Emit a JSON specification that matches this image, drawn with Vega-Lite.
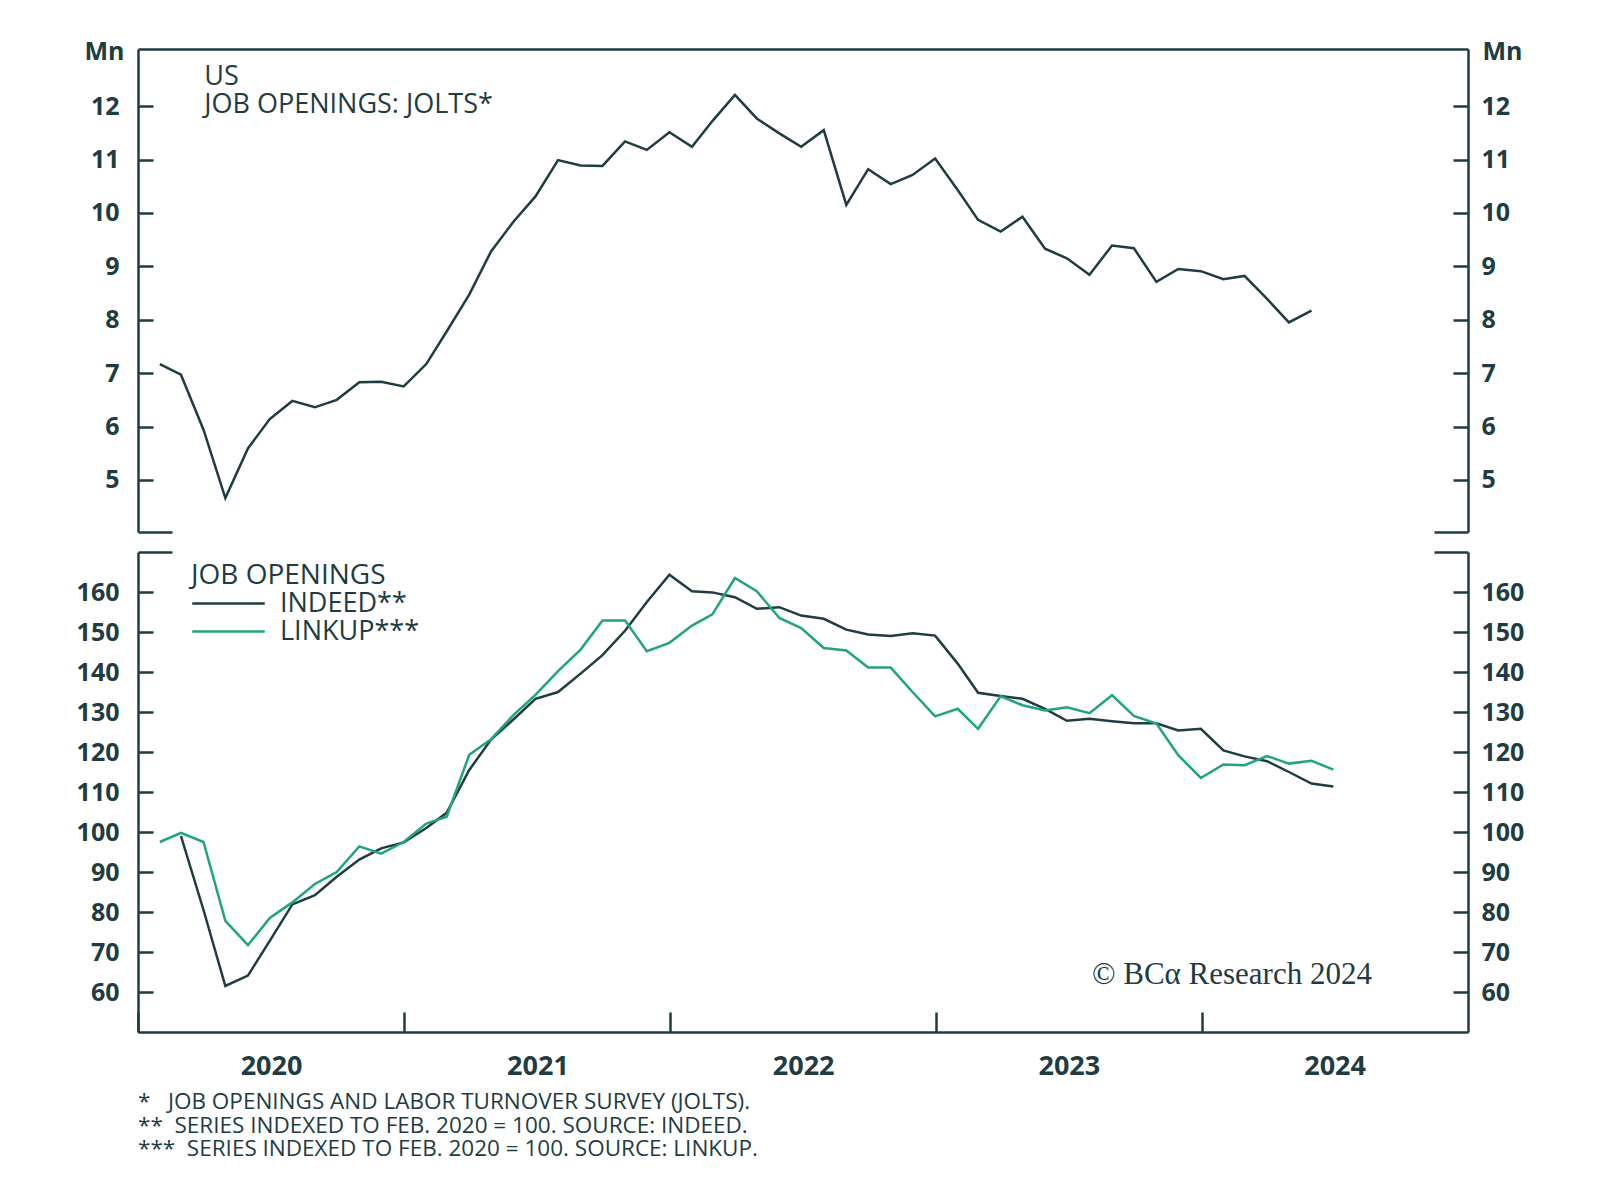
{
  "$schema": "https://vega.github.io/schema/vega-lite/v6.json",
  "background": "white",
  "padding": {"left": 76, "top": 39, "right": 10, "bottom": 10},
  "config": {
    "view": {"stroke": null},
    "font": "Open Sans",
    "axis": {"grid": false}
  },
  "datasets": {
    "jolts": [
      {"date": "2020-01-31", "value": 7.17}, {"date": "2020-02-29", "value": 6.97}, {"date": "2020-03-31", "value": 5.94},
      {"date": "2020-04-30", "value": 4.66}, {"date": "2020-05-31", "value": 5.59}, {"date": "2020-06-30", "value": 6.14},
      {"date": "2020-07-31", "value": 6.48}, {"date": "2020-08-31", "value": 6.36}, {"date": "2020-09-30", "value": 6.5},
      {"date": "2020-10-31", "value": 6.83}, {"date": "2020-11-30", "value": 6.84}, {"date": "2020-12-31", "value": 6.75},
      {"date": "2021-01-31", "value": 7.17}, {"date": "2021-02-28", "value": 7.78}, {"date": "2021-03-31", "value": 8.47},
      {"date": "2021-04-30", "value": 9.28}, {"date": "2021-05-31", "value": 9.84}, {"date": "2021-06-30", "value": 10.31},
      {"date": "2021-07-31", "value": 10.99}, {"date": "2021-08-31", "value": 10.89}, {"date": "2021-09-30", "value": 10.88},
      {"date": "2021-10-31", "value": 11.34}, {"date": "2021-11-30", "value": 11.18}, {"date": "2021-12-31", "value": 11.51},
      {"date": "2022-01-31", "value": 11.24}, {"date": "2022-02-28", "value": 11.72}, {"date": "2022-03-31", "value": 12.21},
      {"date": "2022-04-30", "value": 11.77}, {"date": "2022-05-31", "value": 11.49}, {"date": "2022-06-30", "value": 11.24},
      {"date": "2022-07-31", "value": 11.55}, {"date": "2022-08-31", "value": 10.15}, {"date": "2022-09-30", "value": 10.82},
      {"date": "2022-10-31", "value": 10.54}, {"date": "2022-11-30", "value": 10.71}, {"date": "2022-12-31", "value": 11.02},
      {"date": "2023-01-31", "value": 10.43}, {"date": "2023-02-28", "value": 9.87}, {"date": "2023-03-31", "value": 9.65},
      {"date": "2023-04-30", "value": 9.93}, {"date": "2023-05-31", "value": 9.33}, {"date": "2023-06-30", "value": 9.15},
      {"date": "2023-07-31", "value": 8.84}, {"date": "2023-08-31", "value": 9.39}, {"date": "2023-09-30", "value": 9.34},
      {"date": "2023-10-31", "value": 8.71}, {"date": "2023-11-30", "value": 8.95}, {"date": "2023-12-31", "value": 8.91},
      {"date": "2024-01-31", "value": 8.76}, {"date": "2024-02-29", "value": 8.82}, {"date": "2024-03-31", "value": 8.39},
      {"date": "2024-04-30", "value": 7.95}, {"date": "2024-05-31", "value": 8.17}
    ],
    "postings": [
      {"date": "2020-02-29", "series": "INDEED**", "value": 99.0}, {"date": "2020-03-31", "series": "INDEED**", "value": 80.5},
      {"date": "2020-04-30", "series": "INDEED**", "value": 61.5}, {"date": "2020-05-31", "series": "INDEED**", "value": 64.1},
      {"date": "2020-06-30", "series": "INDEED**", "value": 72.8}, {"date": "2020-07-31", "series": "INDEED**", "value": 81.9},
      {"date": "2020-08-31", "series": "INDEED**", "value": 84.2}, {"date": "2020-09-30", "series": "INDEED**", "value": 88.8},
      {"date": "2020-10-31", "series": "INDEED**", "value": 93.1}, {"date": "2020-11-30", "series": "INDEED**", "value": 95.9},
      {"date": "2020-12-31", "series": "INDEED**", "value": 97.4}, {"date": "2021-01-31", "series": "INDEED**", "value": 101.0},
      {"date": "2021-02-28", "series": "INDEED**", "value": 104.8}, {"date": "2021-03-31", "series": "INDEED**", "value": 115.5},
      {"date": "2021-04-30", "series": "INDEED**", "value": 123.1}, {"date": "2021-05-31", "series": "INDEED**", "value": 128.2},
      {"date": "2021-06-30", "series": "INDEED**", "value": 133.3}, {"date": "2021-07-31", "series": "INDEED**", "value": 135.0},
      {"date": "2021-08-31", "series": "INDEED**", "value": 139.6}, {"date": "2021-09-30", "series": "INDEED**", "value": 144.2},
      {"date": "2021-10-31", "series": "INDEED**", "value": 150.3}, {"date": "2021-11-30", "series": "INDEED**", "value": 157.5},
      {"date": "2021-12-31", "series": "INDEED**", "value": 164.3}, {"date": "2022-01-31", "series": "INDEED**", "value": 160.2},
      {"date": "2022-02-28", "series": "INDEED**", "value": 159.9}, {"date": "2022-03-31", "series": "INDEED**", "value": 158.7},
      {"date": "2022-04-30", "series": "INDEED**", "value": 155.8}, {"date": "2022-05-31", "series": "INDEED**", "value": 156.2},
      {"date": "2022-06-30", "series": "INDEED**", "value": 154.1}, {"date": "2022-07-31", "series": "INDEED**", "value": 153.3},
      {"date": "2022-08-31", "series": "INDEED**", "value": 150.6}, {"date": "2022-09-30", "series": "INDEED**", "value": 149.4},
      {"date": "2022-10-31", "series": "INDEED**", "value": 149.0}, {"date": "2022-11-30", "series": "INDEED**", "value": 149.7},
      {"date": "2022-12-31", "series": "INDEED**", "value": 149.1}, {"date": "2023-01-31", "series": "INDEED**", "value": 142.1},
      {"date": "2023-02-28", "series": "INDEED**", "value": 134.8}, {"date": "2023-03-31", "series": "INDEED**", "value": 134.0},
      {"date": "2023-04-30", "series": "INDEED**", "value": 133.3}, {"date": "2023-05-31", "series": "INDEED**", "value": 130.8},
      {"date": "2023-06-30", "series": "INDEED**", "value": 127.8}, {"date": "2023-07-31", "series": "INDEED**", "value": 128.3},
      {"date": "2023-08-31", "series": "INDEED**", "value": 127.7}, {"date": "2023-09-30", "series": "INDEED**", "value": 127.2},
      {"date": "2023-10-31", "series": "INDEED**", "value": 127.2}, {"date": "2023-11-30", "series": "INDEED**", "value": 125.4},
      {"date": "2023-12-31", "series": "INDEED**", "value": 125.8}, {"date": "2024-01-31", "series": "INDEED**", "value": 120.4},
      {"date": "2024-02-29", "series": "INDEED**", "value": 118.9}, {"date": "2024-03-31", "series": "INDEED**", "value": 117.7},
      {"date": "2024-04-30", "series": "INDEED**", "value": 115.0}, {"date": "2024-05-31", "series": "INDEED**", "value": 112.1},
      {"date": "2024-06-30", "series": "INDEED**", "value": 111.4},
      {"date": "2020-01-31", "series": "LINKUP***", "value": 97.5}, {"date": "2020-02-29", "series": "LINKUP***", "value": 99.8},
      {"date": "2020-03-31", "series": "LINKUP***", "value": 97.5}, {"date": "2020-04-30", "series": "LINKUP***", "value": 77.8},
      {"date": "2020-05-31", "series": "LINKUP***", "value": 71.7}, {"date": "2020-06-30", "series": "LINKUP***", "value": 78.5},
      {"date": "2020-07-31", "series": "LINKUP***", "value": 82.4}, {"date": "2020-08-31", "series": "LINKUP***", "value": 87.0},
      {"date": "2020-09-30", "series": "LINKUP***", "value": 90.0}, {"date": "2020-10-31", "series": "LINKUP***", "value": 96.4},
      {"date": "2020-11-30", "series": "LINKUP***", "value": 94.6}, {"date": "2020-12-31", "series": "LINKUP***", "value": 97.5},
      {"date": "2021-01-31", "series": "LINKUP***", "value": 102.1}, {"date": "2021-02-28", "series": "LINKUP***", "value": 103.8},
      {"date": "2021-03-31", "series": "LINKUP***", "value": 119.3}, {"date": "2021-04-30", "series": "LINKUP***", "value": 123.2},
      {"date": "2021-05-31", "series": "LINKUP***", "value": 129.3}, {"date": "2021-06-30", "series": "LINKUP***", "value": 134.3},
      {"date": "2021-07-31", "series": "LINKUP***", "value": 140.2}, {"date": "2021-08-31", "series": "LINKUP***", "value": 145.6},
      {"date": "2021-09-30", "series": "LINKUP***", "value": 152.9}, {"date": "2021-10-31", "series": "LINKUP***", "value": 152.9},
      {"date": "2021-11-30", "series": "LINKUP***", "value": 145.2}, {"date": "2021-12-31", "series": "LINKUP***", "value": 147.3},
      {"date": "2022-01-31", "series": "LINKUP***", "value": 151.6}, {"date": "2022-02-28", "series": "LINKUP***", "value": 154.4},
      {"date": "2022-03-31", "series": "LINKUP***", "value": 163.5}, {"date": "2022-04-30", "series": "LINKUP***", "value": 160.2},
      {"date": "2022-05-31", "series": "LINKUP***", "value": 153.5}, {"date": "2022-06-30", "series": "LINKUP***", "value": 151.0},
      {"date": "2022-07-31", "series": "LINKUP***", "value": 146.0}, {"date": "2022-08-31", "series": "LINKUP***", "value": 145.4},
      {"date": "2022-09-30", "series": "LINKUP***", "value": 141.1}, {"date": "2022-10-31", "series": "LINKUP***", "value": 141.1},
      {"date": "2022-11-30", "series": "LINKUP***", "value": 135.0}, {"date": "2022-12-31", "series": "LINKUP***", "value": 128.9},
      {"date": "2023-01-31", "series": "LINKUP***", "value": 130.8}, {"date": "2023-02-28", "series": "LINKUP***", "value": 125.8},
      {"date": "2023-03-31", "series": "LINKUP***", "value": 133.9}, {"date": "2023-04-30", "series": "LINKUP***", "value": 131.7},
      {"date": "2023-05-31", "series": "LINKUP***", "value": 130.4}, {"date": "2023-06-30", "series": "LINKUP***", "value": 131.2},
      {"date": "2023-07-31", "series": "LINKUP***", "value": 129.7}, {"date": "2023-08-31", "series": "LINKUP***", "value": 134.2},
      {"date": "2023-09-30", "series": "LINKUP***", "value": 129.0}, {"date": "2023-10-31", "series": "LINKUP***", "value": 127.1},
      {"date": "2023-11-30", "series": "LINKUP***", "value": 119.2}, {"date": "2023-12-31", "series": "LINKUP***", "value": 113.5},
      {"date": "2024-01-31", "series": "LINKUP***", "value": 116.9}, {"date": "2024-02-29", "series": "LINKUP***", "value": 116.7},
      {"date": "2024-03-31", "series": "LINKUP***", "value": 119.0}, {"date": "2024-04-30", "series": "LINKUP***", "value": 117.1},
      {"date": "2024-05-31", "series": "LINKUP***", "value": 117.8}, {"date": "2024-06-30", "series": "LINKUP***", "value": 115.6}
    ]
  },
  "bounds": "flush",
  "spacing": 20,
  "vconcat": [
    {
      "width": 1330,
      "height": 483,
      "layer": [
        {
          "data": {"name": "jolts"},
          "mark": {"type": "line", "color": "#1e3c42", "strokeWidth": 2.5},
          "encoding": {
            "x": {
              "field": "date", "type": "temporal",
              "scale": {"type": "utc", "domain": [{"year": 2020, "month": 1, "date": 1, "utc": true}, {"year": 2025, "month": 1, "date": 1, "utc": true}]},
              "axis": {"orient": "top", "labels": false, "ticks": false, "title": null, "domain": true, "domainColor": "#1e3c42", "domainWidth": 2.5}
            },
            "y": {
              "field": "value", "type": "quantitative",
              "scale": {"domain": [4.025, 13.07], "nice": false, "zero": false},
              "axis": {
                "orient": "left",
                "values": [4.025, 5, 6, 7, 8, 9, 10, 11, 12],
                "tickSize": {"condition": {"test": "datum.value < 4.5", "value": -34}, "value": -15},
                "tickWidth": 2.5, "tickColor": "#1e3c42",
                "domainColor": "#1e3c42", "domainWidth": 2.5,
                "labelExpr": "datum.value < 4.5 ? '' : datum.label",
                "labelFont": "Open Sans", "labelFontWeight": "bold", "labelFontSize": 25, "labelColor": "#1e3c42",
                "labelPadding": 34,
                "title": "Mn", "titleAngle": 0, "titleAlign": "right", "titleAnchor": "end", "titleBaseline": "middle",
                "titleX": -14, "titleY": 2, "titleFont": "Open Sans", "titleFontWeight": "bold", "titleFontSize": 25, "titleColor": "#1e3c42"
              }
            }
          }
        },
        {
          "data": {"name": "jolts"},
          "mark": {"type": "line", "strokeOpacity": 0},
          "encoding": {
            "x": {"field": "date", "type": "temporal"},
            "y": {
              "field": "value", "type": "quantitative",
              "scale": {"domain": [4.025, 13.07], "nice": false, "zero": false},
              "axis": {
                "orient": "right",
                "values": [4.025, 5, 6, 7, 8, 9, 10, 11, 12],
                "tickSize": {"condition": {"test": "datum.value < 4.5", "value": -34}, "value": -15},
                "tickWidth": 2.5, "tickColor": "#1e3c42",
                "domainColor": "#1e3c42", "domainWidth": 2.5,
                "labelExpr": "datum.value < 4.5 ? '' : datum.label",
                "labelFont": "Open Sans", "labelFontWeight": "bold", "labelFontSize": 25, "labelColor": "#1e3c42",
                "labelPadding": 28,
                "title": "Mn", "titleAngle": 0, "titleAlign": "left", "titleAnchor": "end", "titleBaseline": "middle",
                "titleX": 14, "titleY": 2, "titleFont": "Open Sans", "titleFontWeight": "bold", "titleFontSize": 25, "titleColor": "#1e3c42"
              }
            }
          }
        },
        {
          "data": {"values": [{"label": "annotation"}]},
          "mark": {"type": "text", "align": "left", "baseline": "alphabetic", "font": "Open Sans", "fontSize": 27, "fontWeight": 500, "color": "#1e3c42", "lineHeight": 28},
          "encoding": {
            "x": {"datum": {"year": 2020, "month": 4, "date": 1, "utc": true}, "type": "temporal"},
            "y": {"datum": 12.4, "type": "quantitative", "axis": null},
            "text": {"value": ["US", "JOB OPENINGS: JOLTS*"]}
          }
        }
      ],
      "resolve": {"axis": {"y": "independent"}}
    },
    {
      "width": 1330,
      "height": 480,
      "title": {
        "text": ["*\u00a0\u00a0\u00a0JOB OPENINGS AND LABOR TURNOVER SURVEY (JOLTS).", "**\u00a0\u00a0SERIES INDEXED TO FEB. 2020 = 100. SOURCE: INDEED.", "***\u00a0\u00a0SERIES INDEXED TO FEB. 2020 = 100. SOURCE: LINKUP."],
        "orient": "bottom", "anchor": "start", "frame": "group",
        "font": "Open Sans", "fontSize": 22.5, "fontWeight": "normal", "color": "#1e3c42", "lineHeight": 23.5, "offset": 12
      },
      "layer": [
        {
          "data": {"name": "postings"},
          "mark": {"type": "line", "strokeWidth": 2.5},
          "encoding": {
            "x": {
              "field": "date", "type": "temporal",
              "scale": {"type": "utc", "domain": [{"year": 2020, "month": 1, "date": 1, "utc": true}, {"year": 2025, "month": 1, "date": 1, "utc": true}]},
              "axis": {
                "orient": "bottom",
                "values": [{"year": 2020, "month": 1, "date": 1, "utc": true}, {"year": 2021, "month": 1, "date": 1, "utc": true}, {"year": 2022, "month": 1, "date": 1, "utc": true}, {"year": 2023, "month": 1, "date": 1, "utc": true}, {"year": 2024, "month": 1, "date": 1, "utc": true}],
                "format": "%Y", "labelOffset": 133, "labelFlush": false, "labelOverlap": false, "labelBound": false,
                "tickSize": -20, "tickWidth": 2.5, "tickColor": "#1e3c42",
                "domainColor": "#1e3c42", "domainWidth": 2.5,
                "labelFont": "Open Sans", "labelFontWeight": "bold", "labelFontSize": 27, "labelColor": "#1e3c42",
                "labelPadding": 41, "title": null
              }
            },
            "y": {
              "field": "value", "type": "quantitative",
              "scale": {"domain": [50, 170], "nice": false, "zero": false},
              "axis": {
                "orient": "left",
                "values": [60, 70, 80, 90, 100, 110, 120, 130, 140, 150, 160, 170],
                "tickSize": {"condition": {"test": "datum.value > 165", "value": -34}, "value": -15},
                "tickWidth": 2.5, "tickColor": "#1e3c42",
                "domainColor": "#1e3c42", "domainWidth": 2.5,
                "labelExpr": "datum.value > 165 ? '' : datum.label",
                "labelFont": "Open Sans", "labelFontWeight": "bold", "labelFontSize": 25, "labelColor": "#1e3c42",
                "labelPadding": 34, "title": null
              }
            },
            "color": {
              "field": "series", "type": "nominal",
              "scale": {"domain": ["INDEED**", "LINKUP***"], "range": ["#1e3c42", "#1fa47f"]},
              "legend": {
                "orient": "none", "legendX": 53, "legendY": 513,
                "title": "JOB OPENINGS", "titleFont": "Open Sans", "titleFontSize": 28, "titleFontWeight": 500, "titleColor": "#1e3c42", "titlePadding": 0, "titleLimit": 600,
                "labelFont": "Open Sans", "labelFontSize": 27, "labelFontWeight": 500, "labelColor": "#1e3c42", "labelOffset": 14, "labelLimit": 600,
                "symbolType": "stroke", "symbolSize": 5256, "symbolStrokeWidth": 2.5, "clipHeight": 27, "rowPadding": 0
              }
            }
          }
        },
        {
          "data": {"name": "postings"},
          "mark": {"type": "line", "strokeOpacity": 0},
          "encoding": {
            "x": {"field": "date", "type": "temporal"},
            "detail": {"field": "series", "type": "nominal"},
            "y": {
              "field": "value", "type": "quantitative",
              "scale": {"domain": [50, 170], "nice": false, "zero": false},
              "axis": {
                "orient": "right",
                "values": [60, 70, 80, 90, 100, 110, 120, 130, 140, 150, 160, 170],
                "tickSize": {"condition": {"test": "datum.value > 165", "value": -34}, "value": -15},
                "tickWidth": 2.5, "tickColor": "#1e3c42",
                "domainColor": "#1e3c42", "domainWidth": 2.5,
                "labelExpr": "datum.value > 165 ? '' : datum.label",
                "labelFont": "Open Sans", "labelFontWeight": "bold", "labelFontSize": 25, "labelColor": "#1e3c42",
                "labelPadding": 28, "title": null
              }
            }
          }
        },
        {
          "data": {"values": [{"label": "copyright"}]},
          "mark": {"type": "text", "align": "right", "baseline": "alphabetic", "font": "Liberation Serif", "fontSize": 31, "color": "#1e3c42"},
          "encoding": {
            "x": {"datum": {"year": 2024, "month": 8, "date": 22, "utc": true}, "type": "temporal"},
            "y": {"datum": 62, "type": "quantitative", "axis": null},
            "text": {"value": "© BCα Research 2024"}
          }
        }
      ],
      "resolve": {"axis": {"y": "independent"}}
    }
  ]
}
